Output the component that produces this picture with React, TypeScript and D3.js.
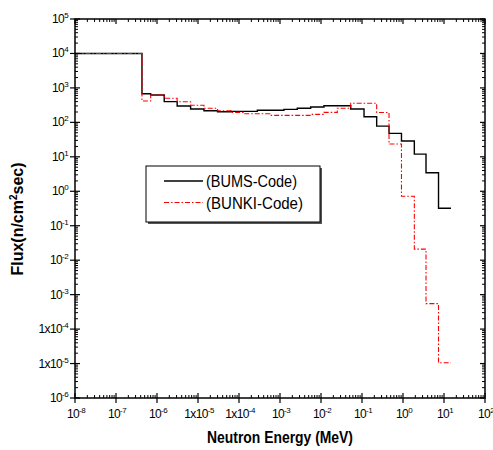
import React from "react";
import * as d3 from "d3";

// Energy bin edges (MeV)
const energyEdges = [
  1e-8, 4.3e-7, 7e-7, 1.5e-6, 3.1e-6, 6.6e-6, 1.4e-5, 3e-5, 6.4e-5, 1.33e-4,
  2.8e-4, 5.9e-4, 1.25e-3, 2.64e-3, 5.6e-3, 1.18e-2, 2.5e-2, 5.3e-2, 0.112,
  0.228, 0.456, 0.918, 1.89, 3.64, 7.35, 14.8,
];

// BUMS-Code flux per bin
const bumsFlux = [
  1e4, 680, 620, 400, 300, 245, 218, 204, 209, 209, 224, 224, 239, 256, 279,
  304, 304, 244, 146, 78, 48, 28.7, 12, 3.45, 0.32,
];

// BUNKI-Code flux per bin
const bunkiFlux = [
  1e4, 417, 622, 499, 397, 313, 256, 218, 195, 178, 178, 160, 160, 160, 171,
  195, 256, 357, 357, 193, 23.5, 0.72, 0.021, 5.5e-4, 1.05e-5,
];

const xTickExps = [-8, -7, -6, -5, -4, -3, -2, -1, 0, 1, 2];
const xTickPrefix = ["10", "10", "10", "1x10", "1x10", "10", "10", "10", "10", "10", "10"];
const yTickExps = [5, 4, 3, 2, 1, 0, -1, -2, -3, -4, -5, -6];
const yTickPrefix = ["10", "10", "10", "10", "10", "10", "10", "10", "10", "1x10", "1x10", "10"];

const seriesNames = ["(BUMS-Code)", "(BUNKI-Code)"];
const seriesColors = ["#000000", "#ff0000"];
const seriesDash = [null, "5,2,1.5,2"];
const seriesWidths = [1.4, 1.1];

const W = 493;
const H = 450;
const L = 75;
const R = 485;
const T = 19;
const B = 398;

export default function App() {
  const x = d3.scaleLog().domain([1e-8, 1e2]).range([L, R]);
  const y = d3.scaleLog().domain([1e-6, 1e5]).range([B, T]);

  const toPts = (vals: number[]) =>
    energyEdges.map((e, i) => [e, vals[Math.min(i, vals.length - 1)]] as [number, number]);

  const line = d3
    .line<[number, number]>()
    .x((d) => x(d[0]))
    .y((d) => y(d[1]))
    .curve(d3.curveStepAfter);

  const seriesData = [bumsFlux, bunkiFlux];

  // minor ticks
  const xMinor: number[] = [];
  for (let e = -8; e < 2; e++) for (let k = 2; k <= 9; k++) xMinor.push(k * Math.pow(10, e));
  const yMinor: number[] = [];
  for (let e = -6; e < 5; e++) for (let k = 2; k <= 9; k++) yMinor.push(k * Math.pow(10, e));

  const font = "Arial, 'Liberation Sans', sans-serif";

  return (
    <svg
      width={W}
      height={H}
      style={{ position: "absolute", left: 0, top: 0, background: "#fff" }}
      fontFamily={font}
    >
      <rect x={0} y={0} width={W} height={H} fill="#fff" />
      {/* series */}
      {seriesData.map((vals, i) => (
        <path
          key={i}
          d={line(toPts(vals)) || ""}
          fill="none"
          stroke={seriesColors[i]}
          strokeWidth={seriesWidths[i]}
          strokeDasharray={seriesDash[i] || undefined}
        />
      ))}

      {/* frame */}
      <rect x={L} y={T} width={R - L} height={B - T} fill="none" stroke="#000" strokeWidth={1.5} />

      {/* x ticks */}
      {xTickExps.map((e) => {
        const px = x(Math.pow(10, e));
        return (
          <g key={"xt" + e}>
            <line x1={px} x2={px} y1={B + 5} y2={B - 5} stroke="#000" strokeWidth={1.2} />
            <line x1={px} x2={px} y1={T} y2={T + 5} stroke="#000" strokeWidth={1.2} />
          </g>
        );
      })}
      {xMinor.map((v, i) => {
        const px = x(v);
        return (
          <g key={"xm" + i}>
            <line x1={px} x2={px} y1={B} y2={B - 3} stroke="#000" strokeWidth={1} />
            <line x1={px} x2={px} y1={T} y2={T + 3} stroke="#000" strokeWidth={1} />
          </g>
        );
      })}
      {/* y ticks */}
      {yTickExps.map((e) => {
        const py = y(Math.pow(10, e));
        return (
          <g key={"yt" + e}>
            <line x1={L - 5} x2={L + 5} y1={py} y2={py} stroke="#000" strokeWidth={1.2} />
            <line x1={R} x2={R - 5} y1={py} y2={py} stroke="#000" strokeWidth={1.2} />
          </g>
        );
      })}
      {yMinor.map((v, i) => {
        const py = y(v);
        return (
          <g key={"ym" + i}>
            <line x1={L} x2={L + 3} y1={py} y2={py} stroke="#000" strokeWidth={1} />
            <line x1={R} x2={R - 3} y1={py} y2={py} stroke="#000" strokeWidth={1} />
          </g>
        );
      })}

      {/* x tick labels */}
      {xTickExps.map((e, i) => (
        <text key={"xl" + e} x={x(Math.pow(10, e)) + 1} y={418} fontSize={12} textAnchor="middle" letterSpacing={-0.6}>
          {xTickPrefix[i]}
          <tspan fontSize={8} dy={-5}>{String(e)}</tspan>
        </text>
      ))}
      {/* y tick labels */}
      {yTickExps.map((e, i) => (
        <text key={"yl" + e} x={68} y={y(Math.pow(10, e)) + 4} fontSize={12} textAnchor="end" letterSpacing={-0.6}>
          {yTickPrefix[i]}
          <tspan fontSize={8} dy={-5}>{String(e)}</tspan>
        </text>
      ))}

      {/* axis titles */}
      <text x={280} y={443} fontSize={16} fontWeight="bold" textAnchor="middle" textLength={146} lengthAdjust="spacingAndGlyphs">
        Neutron Energy (MeV)
      </text>
      <text
        transform={`translate(23,219) rotate(-90)`}
        fontSize={16}
        fontWeight="bold"
        textAnchor="middle"
      >
        Flux(n/cm<tspan fontSize={10} dy={-6}>2</tspan>
        <tspan dy={6}>sec)</tspan>
      </text>

      {/* legend */}
      <rect x={148} y={168} width={174} height={56} fill="#555" />
      <rect x={146} y={166} width={174} height={56} fill="#fff" stroke="#000" strokeWidth={1} />
      {seriesNames.map((n, i) => {
        const ly = 181 + i * 21.5;
        return (
          <g key={"lg" + i}>
            <line
              x1={164}
              x2={203}
              y1={ly}
              y2={ly}
              stroke={seriesColors[i]}
              strokeWidth={seriesWidths[i]}
              strokeDasharray={seriesDash[i] || undefined}
            />
            <text x={206} y={ly + 6} fontSize={16} textLength={i === 0 ? 91 : 97} lengthAdjust="spacingAndGlyphs">
              {n}
            </text>
          </g>
        );
      })}
    </svg>
  );
}
